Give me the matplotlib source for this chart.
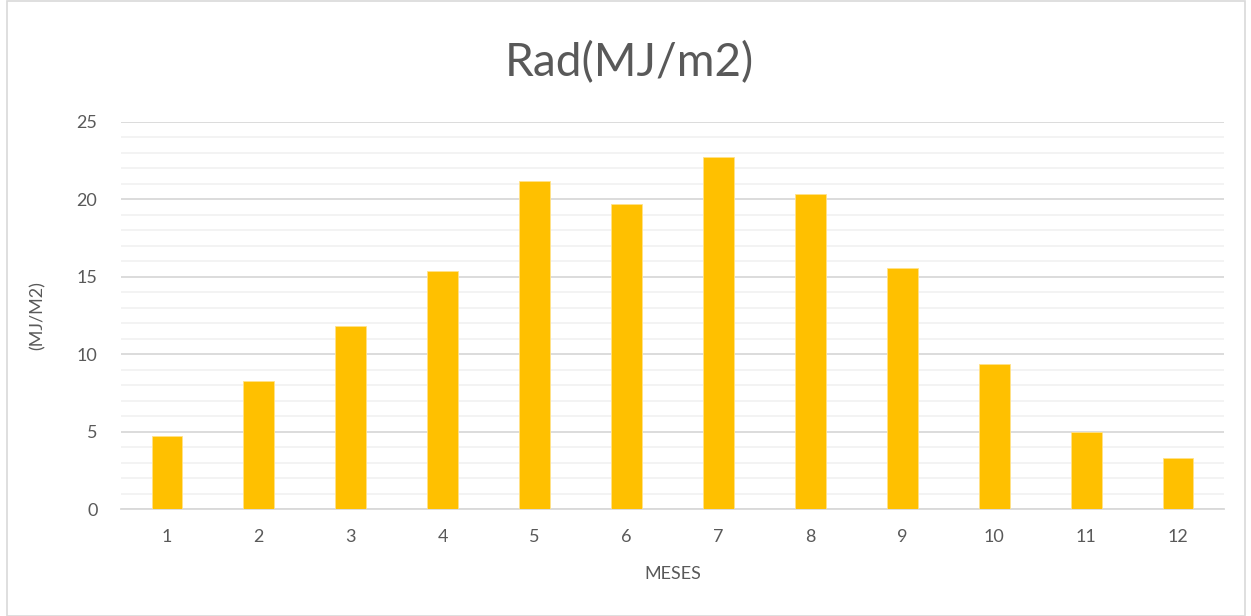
import matplotlib
matplotlib.use('Agg')
import matplotlib.pyplot as plt
from matplotlib.patches import Rectangle

plt.rcParams['font.family'] = ['Lato', 'DejaVu Sans']

meses = [1, 2, 3, 4, 5, 6, 7, 8, 9, 10, 11, 12]
rad = [4.73, 8.30, 11.83, 15.38, 21.2, 19.7, 22.7, 20.34, 15.55, 9.36, 4.97, 3.30]

txt = '#595959'

fig = plt.figure(figsize=(12.51, 6.16), dpi=100)
ax = fig.add_axes([121/1251, 1 - 509.3/616, (1224 - 121)/1251, (509.3 - 121.7)/616])

# chart border
fig.patches.append(Rectangle((0.0056, 0.0), 0.99, 0.998, transform=fig.transFigure,
                             fill=False, edgecolor='#D9D9D9', lw=1.2))

ax.bar(meses, rad, width=0.335, color='#FFC000', edgecolor='#FFE28A', lw=0.6, zorder=3)

ax.set_xlim(0.5, 12.5)
ax.set_ylim(0, 25)
ax.set_yticks(range(0, 26, 5))
ax.set_yticks(range(0, 26, 1), minor=True)
ax.set_xticks(meses)
ax.grid(axis='y', which='major', color='#D9D9D9', lw=1.3, zorder=0)
ax.grid(axis='y', which='minor', color='#F2F2F2', lw=1.3, zorder=0)
ax.grid(axis='x', visible=False)

for s in ['top', 'right', 'left']:
    ax.spines[s].set_visible(False)
ax.spines['bottom'].set_color('#D9D9D9')
ax.spines['bottom'].set_linewidth(1.3)
ax.tick_params(axis='both', which='both', length=0, colors=txt, labelsize=13)
ax.tick_params(axis='y', pad=17)
ax.tick_params(axis='x', pad=14)

ax.set_xlabel('MESES', color=txt, fontsize=13, labelpad=15)
ax.set_ylabel('(MJ/M2)', color=txt, fontsize=13, labelpad=22)
fig.text(629 / 1251, 1 - 63/616, 'Rad(MJ/m2)', ha='center', va='center',
         color=txt, fontsize=33)

fig.savefig('out.png', dpi=100)
